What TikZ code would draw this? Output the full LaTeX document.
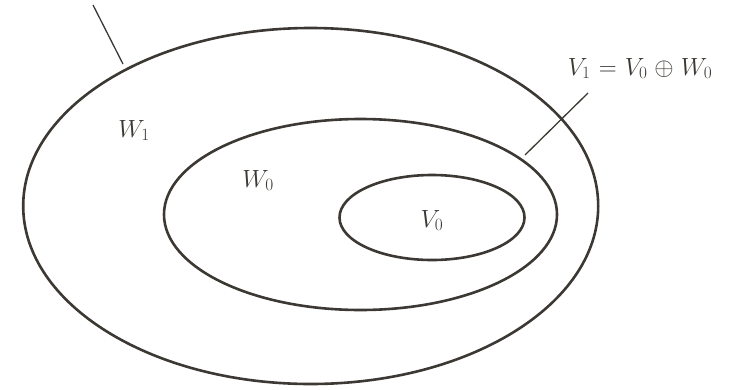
\documentclass[tikz,border=0pt]{standalone}
\usepackage{xcolor}
\definecolor{ink}{HTML}{3C3833}
\tikzset{
  ring/.style={draw=ink, line width=2.6pt},
  leader/.style={draw=ink, line width=1.3pt},
  lab/.style={text=ink, font=\fontsize{24}{29}\selectfont, inner sep=0pt}
}
\begin{document}
\begin{tikzpicture}[x=1pt,y=-1pt]
\useasboundingbox (0,0) rectangle (729,389);
\draw[ring] (310.7,206) ellipse [x radius=287.5, y radius=178];
\draw[ring] (360.5,214.5) ellipse [x radius=196.5, y radius=95.5];
\draw[ring] (432,217.5) ellipse [x radius=92.5, y radius=42.5];
\coordinate (a1) at (93,5);
\coordinate (a2) at (123,64);
\coordinate (b1) at (588,93);
\coordinate (b2) at (525,155);
\draw[leader] (a1) -- (a2);
\draw[leader] (b1) -- (b2);
\node[lab, anchor=base] (w1) at (134,137) {$W_1$};
\node[lab, anchor=base] (w0) at (258,187) {$W_0$};
\node[lab, anchor=base] (v0) at (432,227) {$V_0$};
\node[lab, anchor=base] (eq) at (640,75) {$V_1 \mathrel{\mkern1mu=\mkern1mu} V_0 \mathbin{\mkern1mu\oplus\mkern1mu} W_0$};
\end{tikzpicture}
\end{document}
